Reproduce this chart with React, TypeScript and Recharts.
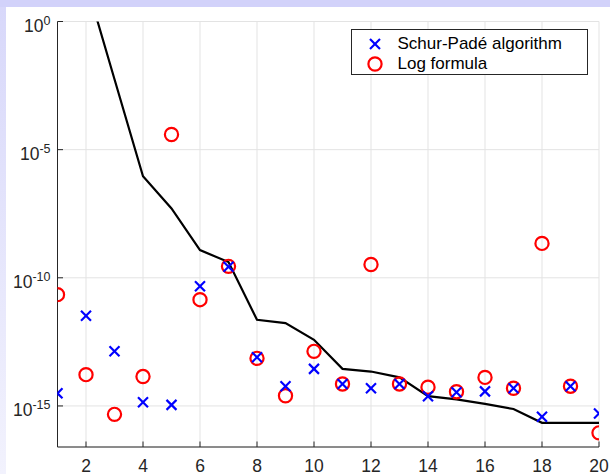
import React from "react";
import {
  ComposedChart,
  Line,
  Scatter,
  XAxis,
  YAxis,
  CartesianGrid,
  Legend,
} from "recharts";

const xValues = [1, 2, 3, 4, 5, 6, 7, 8, 9, 10, 11, 12, 13, 14, 15, 16, 17, 18, 19, 20];

const boundLine = [
  1e5, 3.5e1, 5.6e-3, 9.1e-7, 5.1e-8, 1.2e-9, 4.1e-10, 2.3e-12, 1.7e-12, 3.8e-13,
  2.8e-14, 2.2e-14, 1.3e-14, 2.4e-15, 1.8e-15, 1.2e-15, 7.6e-16, 2.2e-16, 2.2e-16, 2.2e-16,
];

const schurPade = [
  3.1e-15, 3.3e-12, 1.35e-13, 1.4e-15, 1.1e-15, 4.7e-11, 2.7e-10, 7.9e-14, 5.9e-15, 2.8e-14,
  7.2e-15, 4.9e-15, 7.2e-15, 2.4e-15, 3.4e-15, 3.7e-15, 4.9e-15, 3.8e-16, 5.9e-15, 5.1e-16,
];

const logFormula = [
  2.2e-11, 1.66e-14, 4.7e-16, 1.4e-14, 3.9e-5, 1.4e-11, 2.8e-10, 7.2e-14, 2.5e-15, 1.35e-13,
  7.2e-15, 3.3e-10, 7.2e-15, 5.4e-15, 3.6e-15, 1.3e-14, 4.9e-15, 2.2e-9, 5.9e-15, 8.9e-17,
];

const xTicks = [2, 4, 6, 8, 10, 12, 14, 16, 18, 20];
const yTicks = [1e-15, 1e-10, 1e-5, 1];
const yDomain = [2.5e-17, 1];
const legendLabels = ["Schur-Padé algorithm", "Log formula"];

const data = xValues.map((x, i) => ({
  x,
  bound: boundLine[i],
  cross: schurPade[i],
  circle: logFormula[i],
}));

const FONT = "'Liberation Sans', Arial, Helvetica, sans-serif";
const AXIS = "#262626";
const GRID = "#e3e3e3";
const TICK_LEN = 5.5;

const BottomTick = (props: any) => {
  const { x, y, payload } = props;
  return (
    <g>
      <line x1={x} x2={x} y1={y} y2={y - TICK_LEN} stroke={AXIS} strokeWidth={1} />
      <text x={x} y={y + 25} textAnchor="middle" fontSize={17.5} fontFamily={FONT} fill={AXIS}>
        {payload.value}
      </text>
    </g>
  );
};

const TopTick = (props: any) => {
  const { x, y } = props;
  return <line x1={x} x2={x} y1={y} y2={y + TICK_LEN} stroke={AXIS} strokeWidth={1} />;
};

const LeftTick = (props: any) => {
  const { x, y, payload } = props;
  const exp = Math.round(Math.log10(payload.value));
  return (
    <g>
      <line x1={x} x2={x + TICK_LEN} y1={y} y2={y} stroke={AXIS} strokeWidth={1} />
      <text x={x - 7} y={y + 10} textAnchor="end" fontSize={17.5} fontFamily={FONT} fill={AXIS}>
        10
        <tspan dy={-7} fontSize={12.5}>
          {String(exp)}
        </tspan>
      </text>
    </g>
  );
};

const RightTick = (props: any) => {
  const { x, y } = props;
  return <line x1={x} x2={x - TICK_LEN} y1={y} y2={y} stroke={AXIS} strokeWidth={1} />;
};

const CrossShape = (props: any) => {
  const { cx, cy } = props;
  if (cx == null || cy == null) return <g />;
  const s = 5;
  return (
    <g>
      <line x1={cx - s} y1={cy - s} x2={cx + s} y2={cy + s} stroke="#0000ff" strokeWidth={2.2} />
      <line x1={cx - s} y1={cy + s} x2={cx + s} y2={cy - s} stroke="#0000ff" strokeWidth={2.2} />
    </g>
  );
};

const CircleShape = (props: any) => {
  const { cx, cy } = props;
  if (cx == null || cy == null) return <g />;
  return <circle cx={cx} cy={cy} r={6.6} fill="none" stroke="#ff0000" strokeWidth={2.2} />;
};

const LegendBox = () => (
  <div
    style={{
      width: 237,
      height: 46,
      boxSizing: "border-box",
      border: `1px solid ${AXIS}`,
      background: "#ffffff",
      fontFamily: FONT,
      fontSize: 17,
      color: "#000",
      position: "relative",
    }}
  >
    {legendLabels.map((label, i) => (
      <div
        key={label}
        style={{
          position: "absolute",
          left: 0,
          top: 4 + i * 20,
          height: 20,
          display: "flex",
          alignItems: "center",
          whiteSpace: "nowrap",
        }}
      >
        <svg width={46} height={20} style={{ display: "block" }}>
          {i === 0 ? (
            <g>
              <line x1={18} y1={5} x2={28} y2={15} stroke="#0000ff" strokeWidth={2.2} />
              <line x1={18} y1={15} x2={28} y2={5} stroke="#0000ff" strokeWidth={2.2} />
            </g>
          ) : (
            <circle cx={23} cy={10} r={6.6} fill="none" stroke="#ff0000" strokeWidth={2.2} />
          )}
        </svg>
        <span>{label}</span>
      </div>
    ))}
  </div>
);

export default function App() {
  return (
    <div
      style={{
        position: "absolute",
        left: 0,
        top: 0,
        width: 610,
        height: 474,
        background: "#ffffff",
        overflow: "hidden",
      }}
    >
      <div style={{ position: "absolute", left: 0, top: 0, width: 610, height: 7, background: "#d2d2fa" }} />
      <div
        style={{
          position: "absolute",
          left: 0,
          top: 7,
          width: 6,
          height: 467,
          background: "linear-gradient(#d8d8fa, #f2f2fd)",
        }}
      />
      <div style={{ position: "absolute", left: 0, top: 0 }}>
        <ComposedChart
          width={610}
          height={474}
          data={data}
          margin={{ top: 21.5, right: 11, bottom: 0, left: 0 }}
        >
          <CartesianGrid stroke={GRID} strokeWidth={1} />
          <XAxis
            dataKey="x"
            type="number"
            domain={[1, 20]}
            ticks={xTicks}
            interval={0}
            height={27}
            tickSize={0}
            tickMargin={0}
            tickLine={false}
            axisLine={{ stroke: AXIS, strokeWidth: 1 }}
            tick={<BottomTick />}
            allowDataOverflow
          />
          <XAxis
            xAxisId="top"
            orientation="top"
            dataKey="x"
            type="number"
            domain={[1, 20]}
            ticks={xTicks}
            interval={0}
            height={0}
            tickSize={0}
            tickMargin={0}
            tickLine={false}
            axisLine={{ stroke: AXIS, strokeWidth: 1 }}
            tick={<TopTick />}
            allowDataOverflow
          />
          <YAxis
            type="number"
            scale="log"
            domain={yDomain}
            ticks={yTicks}
            interval={0}
            width={57.5}
            tickSize={0}
            tickMargin={0}
            tickLine={false}
            axisLine={{ stroke: AXIS, strokeWidth: 1 }}
            tick={<LeftTick />}
            allowDataOverflow
          />
          <YAxis
            yAxisId="right"
            orientation="right"
            type="number"
            scale="log"
            domain={yDomain}
            ticks={yTicks}
            interval={0}
            width={0}
            tickSize={0}
            tickMargin={0}
            tickLine={false}
            axisLine={{ stroke: AXIS, strokeWidth: 1 }}
            tick={<RightTick />}
            allowDataOverflow
          />
          <Line
            dataKey="bound"
            type="linear"
            stroke="#000000"
            strokeWidth={2.2}
            dot={false}
            activeDot={false}
            isAnimationActive={false}
            legendType="none"
          />
          <Scatter dataKey="circle" shape={<CircleShape />} isAnimationActive={false} />
          <Scatter dataKey="cross" shape={<CrossShape />} isAnimationActive={false} />
          <Legend
            layout="horizontal"
            verticalAlign="middle"
            align="center"
            content={<LegendBox />}
            wrapperStyle={{ position: "absolute", left: 350.5, top: 29, width: 237, height: 46, bottom: "auto", right: "auto" }}
          />
        </ComposedChart>
      </div>
    </div>
  );
}
